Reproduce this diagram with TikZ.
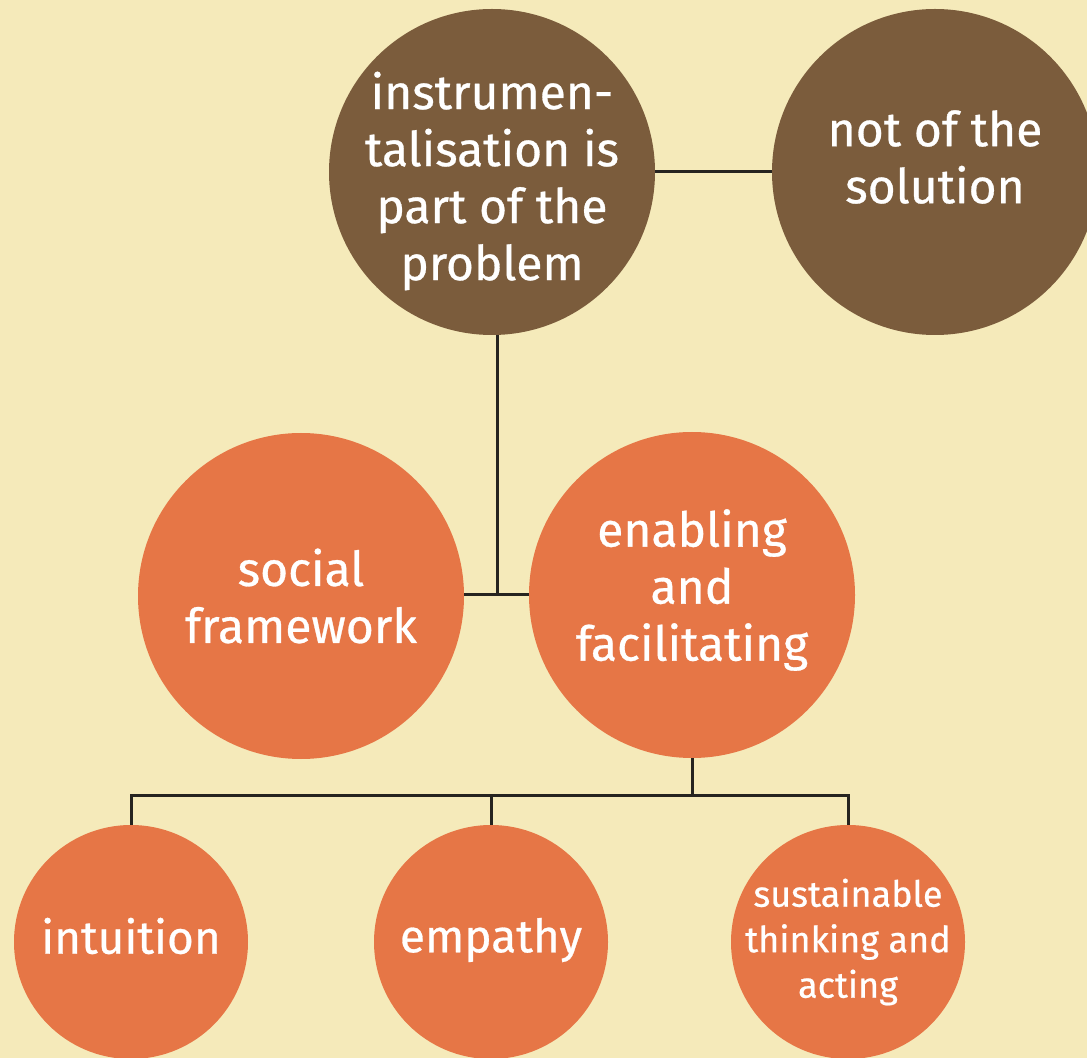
\documentclass[tikz,border=0pt]{standalone}
\usepackage{fontspec}
\setmainfont{Fira Sans}[FakeBold=0.6]
\definecolor{BackColor}{RGB}{245,234,186}
\definecolor{BrownColor}{RGB}{123,92,60}
\definecolor{OrangeColor}{RGB}{230,118,70}
\definecolor{LineColor}{RGB}{38,36,32}
\usepackage{tikz}
\usetikzlibrary{positioning, calc}
\tikzstyle{bigcircle} = [circle, minimum size=163pt, inner sep=0pt, text=white, align=center, font=\fontsize{24}{28.5}\selectfont]
\tikzstyle{smallcircle} = [circle, minimum size=117pt, inner sep=0pt, text=white, align=center, font=\fontsize{23}{28.5}\selectfont]
\tikzstyle{bigtext} = [text=white, align=center, font=\fontsize{24}{28.5}\selectfont]
\tikzstyle{smalltext} = [text=white, align=center, font=\fontsize{18}{22.75}\selectfont]
\tikzstyle{link} = [LineColor, line width=1.5pt]

\begin{document}
\begin{tikzpicture}[x=0.5pt, y=-0.5pt]
    % Background
    \fill[BackColor] (0,0) rectangle (1087,1058);
    \useasboundingbox (0,0) rectangle (1087,1058);

    % Top row
    \node[bigcircle, fill=BrownColor] (prob) at (492,172) {};
    \node[bigtext] (probtext) at ([yshift=-4.5pt]prob.center) {instrumen-\\talisation is\\part of the\\problem};
    \node[bigcircle, fill=BrownColor] (sol) at (935,172) {};
    \node[bigtext] (soltext) at ([yshift=7.5pt]sol.center) {not of the\\solution};

    % Middle row
    \node[bigcircle, fill=OrangeColor] (social) at (301,596) {social\\framework};
    \node[bigcircle, fill=OrangeColor] (enab) at (692,595) {};
    \node[bigtext] (enabtext) at ([yshift=2.5pt]enab.center) {enabling\\and\\facilitating};

    % Bottom row
    \node[smallcircle, fill=OrangeColor] (intu) at (131,942) {};
    \node[smalltext, font=\fontsize{23}{28.5}\selectfont] (intutext) at ([yshift=3pt]intu.center) {intuition};
    \node[smallcircle, fill=OrangeColor] (emp) at (491,942) {};
    \node[smalltext, font=\fontsize{23}{28.5}\selectfont] (emptext) at ([yshift=1pt]emp.center) {empathy};
    \node[smallcircle, fill=OrangeColor] (sust) at (848,942) {};
    \node[smalltext] (susttext) at (sust.center) {sustainable\\thinking and\\acting};

    % Junctions
    \coordinate (jn) at (497,595);
    \coordinate (bus) at (692,795);

    % Connectors
    \draw[link] (prob.east) -- (sol.west);
    \draw[link] (jn |- prob.south) -- (jn);
    \draw[link] (jn -| social.east) -- (jn -| enab.west);
    \draw[link] (enab.south) -- (bus);
    \draw[link] (intu.north) -- (intu.north |- bus) -- (sust.north |- bus) -- (sust.north);
    \draw[link] (emp.north) -- (emp.north |- bus);
\end{tikzpicture}
\end{document}
